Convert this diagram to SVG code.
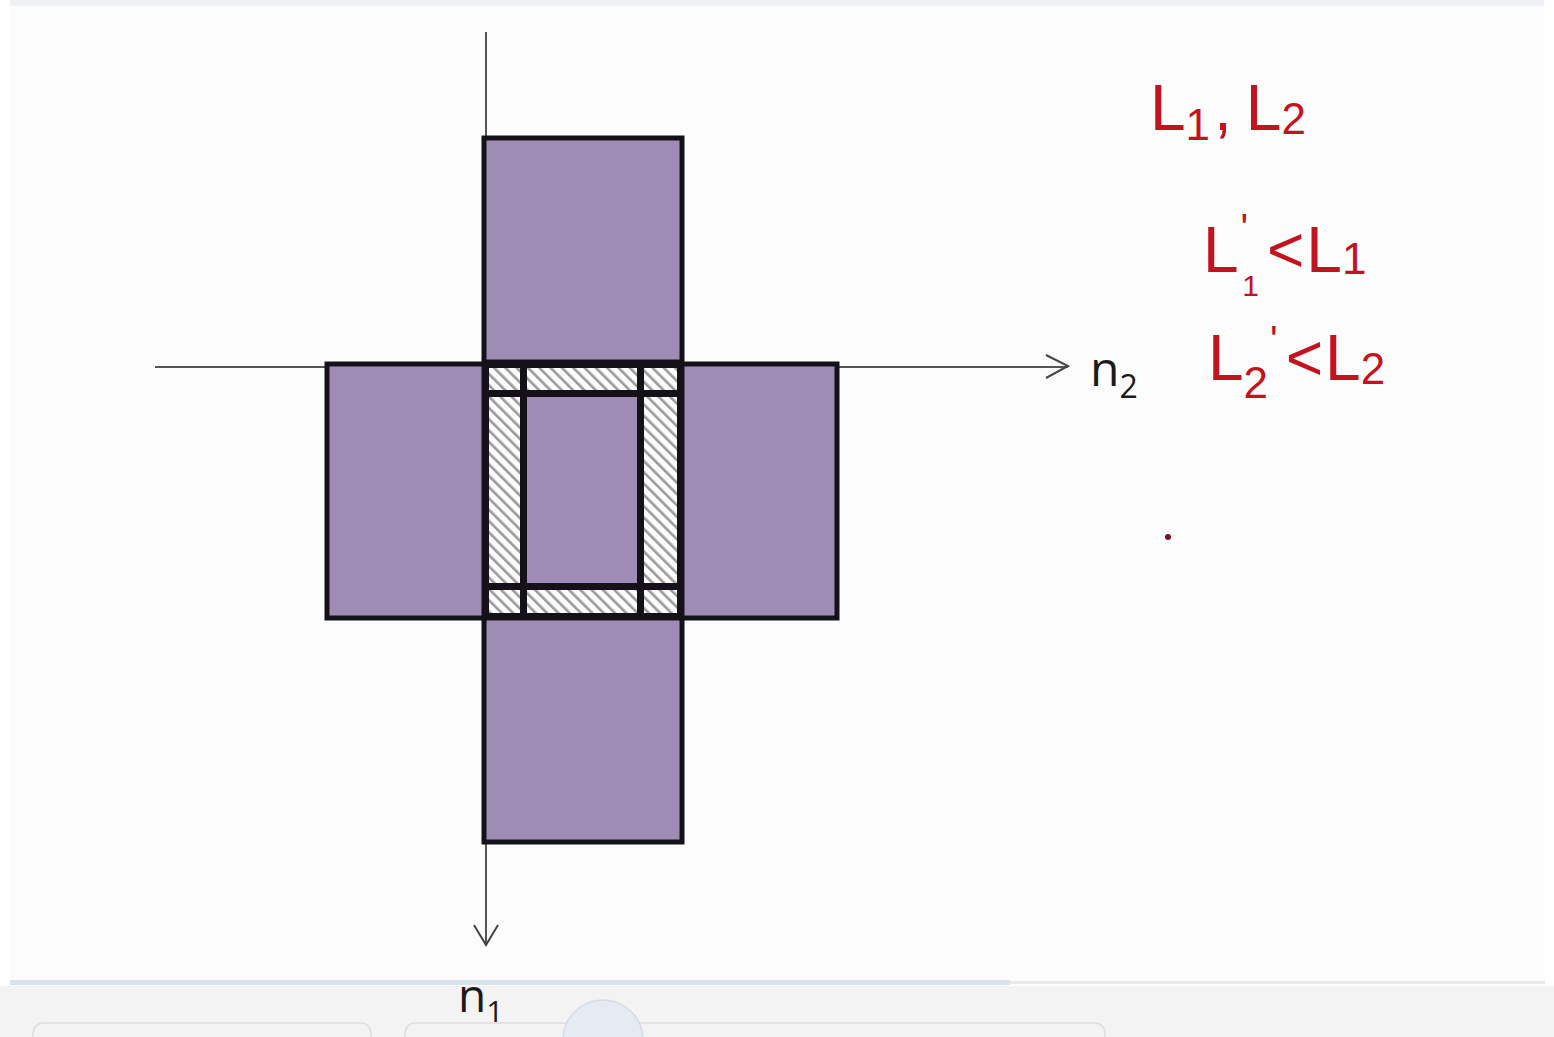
<svg xmlns="http://www.w3.org/2000/svg" width="1554" height="1037" viewBox="0 0 1554 1037">
  <defs>
    <style>
      .arm { fill: #9f8cb6; stroke: #141218; stroke-width: 5; stroke-linejoin: miter; }
      .cell { fill: url(#hatch); }
      .axis { stroke: #555; stroke-width: 2; fill: none; }
      .head { stroke: #444; stroke-width: 2; fill: none; }
      .lbl { font-family: "Open Sans", "Liberation Sans", sans-serif; fill: #1a1a1a; }
      .hand { font-family: "Liberation Sans", "DejaVu Sans", sans-serif; fill: #c4121f; }
    </style>
    <pattern id="hatch" patternUnits="userSpaceOnUse" width="8" height="8" patternTransform="rotate(-45)">
      <rect width="8" height="8" fill="#fcfcfc"/>
      <rect x="0" y="0" width="2.6" height="8" fill="#9a9a9a"/>
    </pattern>
  </defs>

  <rect x="0" y="0" width="1554" height="1037" fill="#fcfcfc"/>
  <rect x="0" y="0" width="1554" height="6" fill="#eef0f3"/>
  <rect x="0" y="0" width="10" height="985" fill="#ffffff"/>
  <rect x="1544" y="0" width="10" height="985" fill="#ffffff"/>
  <rect x="0" y="986" width="1554" height="51" fill="#f3f3f3"/>
  <rect x="10" y="980" width="1000" height="5" fill="#d7e2ef"/>
  <rect x="1010" y="981" width="535" height="3" fill="#e8e8e8"/>
  <rect x="33" y="1023" width="338" height="30" rx="10" fill="none" stroke="#dadde2" stroke-width="1.5"/>
  <rect x="405" y="1023" width="700" height="30" rx="10" fill="none" stroke="#dadde2" stroke-width="1.5"/>
  <circle cx="603" cy="1040" r="40" fill="#e6ebf3" stroke="#d5dbe5" stroke-width="1.5"/>

  <g id="connectors">
    <line class="axis" x1="486" y1="32" x2="486" y2="945"/>
    <polyline class="head" points="474,925 486,945 498,925"/>
    <line class="axis" x1="155" y1="367" x2="1068" y2="367"/>
    <polyline class="head" points="1046,355 1068,366 1046,378"/>
  </g>

  <g id="arm-top"><rect class="arm" x="484" y="138" width="198" height="224"/></g>
  <g id="arm-bottom"><rect class="arm" x="484" y="618" width="198" height="224"/></g>
  <g id="arm-left"><rect class="arm" x="327" y="364" width="157" height="254"/></g>
  <g id="arm-right"><rect class="arm" x="682" y="364" width="155" height="254"/></g>

  <g id="center">
    <rect x="484" y="362" width="199" height="258" fill="#141218"/>
    <rect class="cell" x="489" y="368" width="31" height="22"/>
    <rect class="cell" x="527" y="368" width="110" height="22"/>
    <rect class="cell" x="644" y="368" width="33" height="22"/>
    <rect class="cell" x="489" y="397" width="31" height="186"/>
    <rect x="527" y="397" width="110" height="186" fill="#9f8cb6"/>
    <rect class="cell" x="644" y="397" width="33" height="186"/>
    <rect class="cell" x="489" y="590" width="31" height="23"/>
    <rect class="cell" x="527" y="590" width="110" height="23"/>
    <rect class="cell" x="644" y="590" width="33" height="23"/>
  </g>

  <g id="label-n2">
    <text class="lbl" x="1090" y="386" font-size="48">n<tspan font-size="32" dy="12">2</tspan></text>
  </g>
  <g id="label-n1">
    <text class="lbl" x="458" y="1012" font-size="46">n<tspan font-size="30" dy="10">1</tspan></text>
  </g>

  <g id="notes">
    <text class="hand" x="1150" y="130" font-size="64">L<tspan font-size="44" dy="10">1</tspan><tspan dy="-10" dx="4">,</tspan><tspan dx="14">L</tspan><tspan font-size="44" dy="4">2</tspan></text>
    <text class="hand" x="1203" y="272" font-size="64">L<tspan font-size="40" dy="-30" dx="2">'</tspan><tspan font-size="30" dy="54" dx="-6">1</tspan><tspan dy="-24" dx="8">&lt;</tspan><tspan dx="2">L</tspan><tspan font-size="44" dy="2">1</tspan></text>
    <text class="hand" x="1208" y="380" font-size="64">L<tspan font-size="44" dy="18">2</tspan><tspan font-size="40" dy="-44" dx="2">'</tspan><tspan dy="26" dx="8">&lt;</tspan><tspan dx="2">L</tspan><tspan font-size="44" dy="4">2</tspan></text>
    <circle cx="1168" cy="537" r="3" fill="#7a1020"/>
  </g>
</svg>
